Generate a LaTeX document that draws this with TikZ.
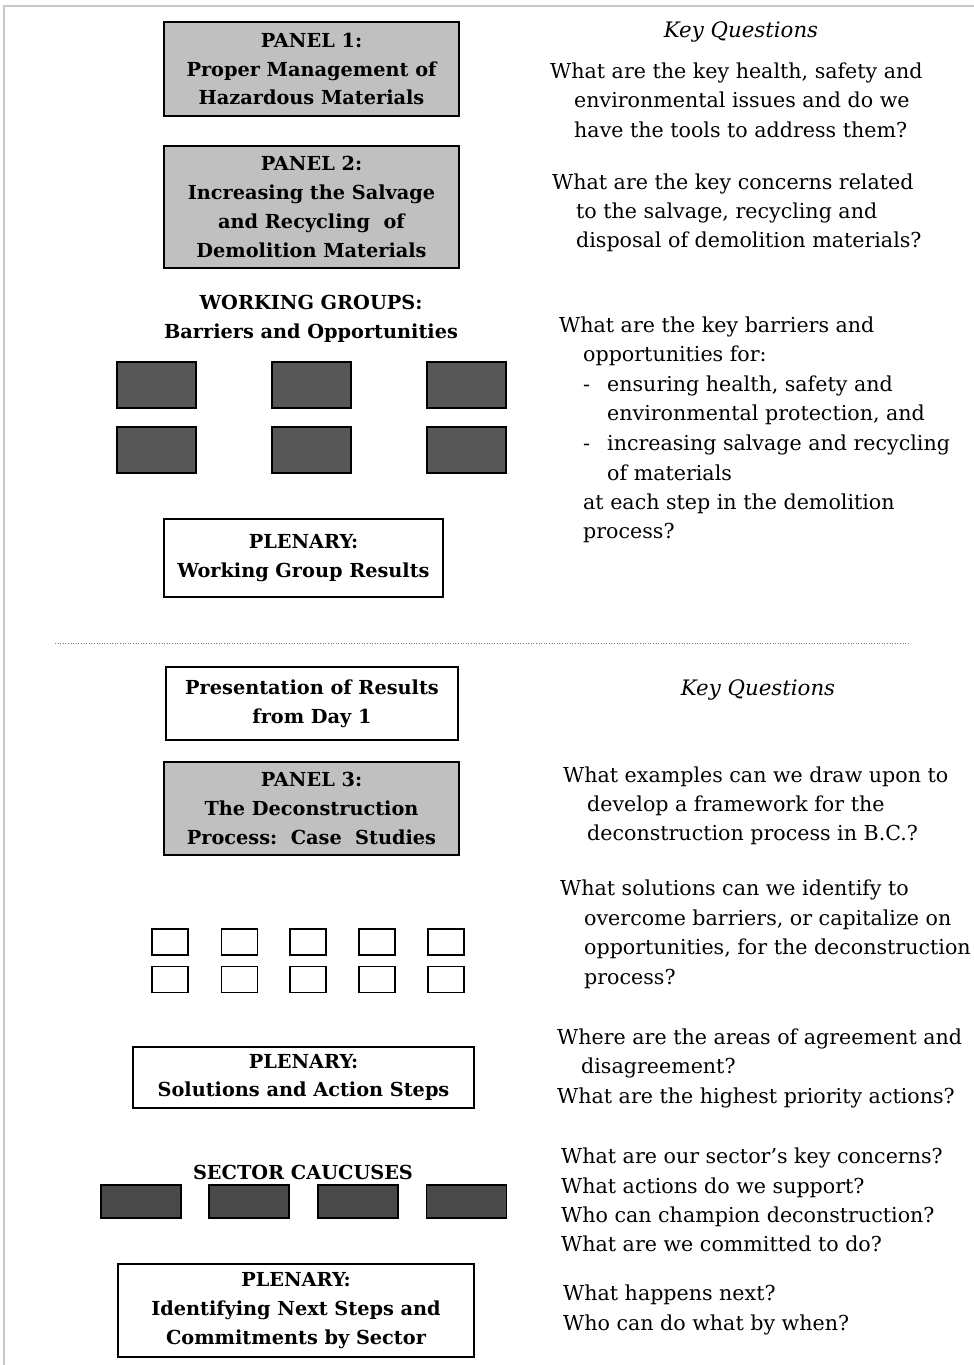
\documentclass[tikz,border=0pt]{standalone}
\usepackage{fontspec}
\setmainfont{DejaVu Serif}
\definecolor{boxgray}{HTML}{C0C0C0}
\definecolor{darkgray}{HTML}{575757}
\definecolor{darkgrayb}{HTML}{4A4A4A}
\definecolor{framegray}{HTML}{C8C8C8}
\begin{document}
\begin{tikzpicture}[x=1pt,y=-1pt,
  titlebox/.style={draw=black, line width=1.6pt, align=center, inner sep=0pt,
     font=\bfseries\fontsize{19.3}{28.7}\selectfont},
  graybox/.style={titlebox, fill=boxgray},
  whitebox/.style={titlebox, fill=white},
  darkbox/.style={draw=black, line width=1.5pt, fill=darkgray, minimum width=79pt, minimum height=46pt, inner sep=0pt},
  caucusbox/.style={draw=black, line width=1.3pt, fill=darkgrayb, minimum width=80pt, minimum height=33pt, inner sep=0pt},
  smallbox/.style={draw=black, line width=1.5pt, fill=white, minimum width=36pt, minimum height=26pt, inner sep=0pt},
  heading/.style={align=center, inner sep=0pt, font=\bfseries\fontsize{19.3}{28.7}\selectfont},
  qline/.style={anchor=base west, inner sep=0pt, font=\fontsize{20.6}{29.5}\selectfont},
  kq/.style={inner sep=0pt, font=\itshape\fontsize{21.3}{29.5}\selectfont}
]
\useasboundingbox (0,0) rectangle (974,1365);
% frame
\coordinate (fbl) at (4,1365);
\coordinate (ftl) at (4,6);
\coordinate (ftr) at (974,6);
\draw[framegray, line width=2pt] (fbl) -- (ftl) -- (ftr);

% ---------- Day 1 left column
\node[graybox, minimum width=295pt, minimum height=94pt] (p1) at (311.5,69)
  {PANEL 1:\\Proper Management of\\Hazardous Materials};
\node[graybox, minimum width=295pt, minimum height=122pt] (p2) at (311.5,207)
  {PANEL 2:\\Increasing the Salvage\\and Recycling\ \ of\\Demolition Materials};
\node[heading] (wg) at (311,318.5) {WORKING GROUPS:\\Barriers and Opportunities};
\node[darkbox] (w1) at (156.5,385) {};
\node[darkbox] (w2) at (311.5,385) {};
\node[darkbox] (w3) at (466.5,385) {};
\node[darkbox] (w4) at (156.5,450) {};
\node[darkbox] (w5) at (311.5,450) {};
\node[darkbox] (w6) at (466.5,450) {};
\node[whitebox, minimum width=279pt, minimum height=78pt] (pl1) at (303.5,558)
  {PLENARY:\\Working Group Results};

% divider
\coordinate (dl) at (55,643);
\coordinate (dr) at (908,643);
\draw[gray, line width=0.6pt, dotted] (dl) -- (dr);

% ---------- Day 2 left column
\node[whitebox, minimum width=292pt, minimum height=73pt] (pr) at (312,703.5)
  {Presentation of Results\\from Day 1};
\node[graybox, minimum width=295pt, minimum height=93pt] (p3) at (311.5,808.5)
  {PANEL 3:\\The Deconstruction\\Process:\ \ Case\ \ Studies};
\node[smallbox] (s1) at (170,942) {};
\node[smallbox] (s2) at (239.5,942) {};
\node[smallbox] (s3) at (308,942) {};
\node[smallbox] (s4) at (377,942) {};
\node[smallbox] (s5) at (446,942) {};
\node[smallbox] (s6) at (170,979.5) {};
\node[smallbox] (s7) at (239.5,979.5) {};
\node[smallbox] (s8) at (308,979.5) {};
\node[smallbox] (s9) at (377,979.5) {};
\node[smallbox] (s10) at (446,979.5) {};
\node[whitebox, minimum width=341pt, minimum height=61pt] (pl2) at (303.5,1077.5)
  {PLENARY:\\Solutions and Action Steps};
\node[heading] (sc) at (303,1172) {SECTOR CAUCUSES};
\node[caucusbox] (c1) at (141,1201.5) {};
\node[caucusbox] (c2) at (249,1201.5) {};
\node[caucusbox] (c3) at (358,1201.5) {};
\node[caucusbox] (c4) at (466.5,1201.5) {};
\node[whitebox, minimum width=356pt, minimum height=93pt] (pl3) at (296,1310.5)
  {PLENARY:\\Identifying Next Steps and\\Commitments by Sector};

% ---------- right column, Day 1
\node[kq] (kq1) at (741,32) {Key Questions};
\node[qline] (q1a) at (550,78) {What are the key health, safety and};
\node[qline] (q1b) at (574,107) {environmental issues and do we};
\node[qline] (q1c) at (574,137) {have the tools to address them?};
\node[qline] (q2a) at (552,189) {What are the key concerns related};
\node[qline] (q2b) at (576,218) {to the salvage, recycling and};
\node[qline] (q2c) at (576,247) {disposal of demolition materials?};
\node[qline] (q3a) at (559,332) {What are the key barriers and};
\node[qline] (q3b) at (583,361) {opportunities for:};
\node[qline] (q3c) at (583,391) {-};
\node[qline] (q3d) at (607,391) {ensuring health, safety and};
\node[qline] (q3e) at (607,420) {environmental protection, and};
\node[qline] (q3f) at (583,450) {-};
\node[qline] (q3g) at (607,450) {increasing salvage and recycling};
\node[qline] (q3h) at (607,480) {of materials};
\node[qline] (q3i) at (583,509) {at each step in the demolition};
\node[qline] (q3j) at (583,538) {process?};

% ---------- right column, Day 2
\node[kq] (kq2) at (758,690) {Key Questions};
\node[qline] (q4a) at (563,782) {What examples can we draw upon to};
\node[qline] (q4b) at (587,811) {develop a framework for the};
\node[qline] (q4c) at (587,840) {deconstruction process in B.C.?};
\node[qline] (q5a) at (560,895) {What solutions can we identify to};
\node[qline] (q5b) at (584,925) {overcome barriers, or capitalize on};
\node[qline] (q5c) at (584,954) {opportunities, for the deconstruction};
\node[qline] (q5d) at (584,984) {process?};
\node[qline] (q6a) at (557,1044) {Where are the areas of agreement and};
\node[qline] (q6b) at (581,1073) {disagreement?};
\node[qline] (q6c) at (557,1103) {What are the highest priority actions?};
\node[qline] (q7a) at (561,1163) {What are our sector’s key concerns?};
\node[qline] (q7b) at (561,1193) {What actions do we support?};
\node[qline] (q7c) at (561,1222) {Who can champion deconstruction?};
\node[qline] (q7d) at (561,1251) {What are we committed to do?};
\node[qline] (q8a) at (563,1300) {What happens next?};
\node[qline] (q8b) at (563,1330) {Who can do what by when?};
\end{tikzpicture}
\end{document}
